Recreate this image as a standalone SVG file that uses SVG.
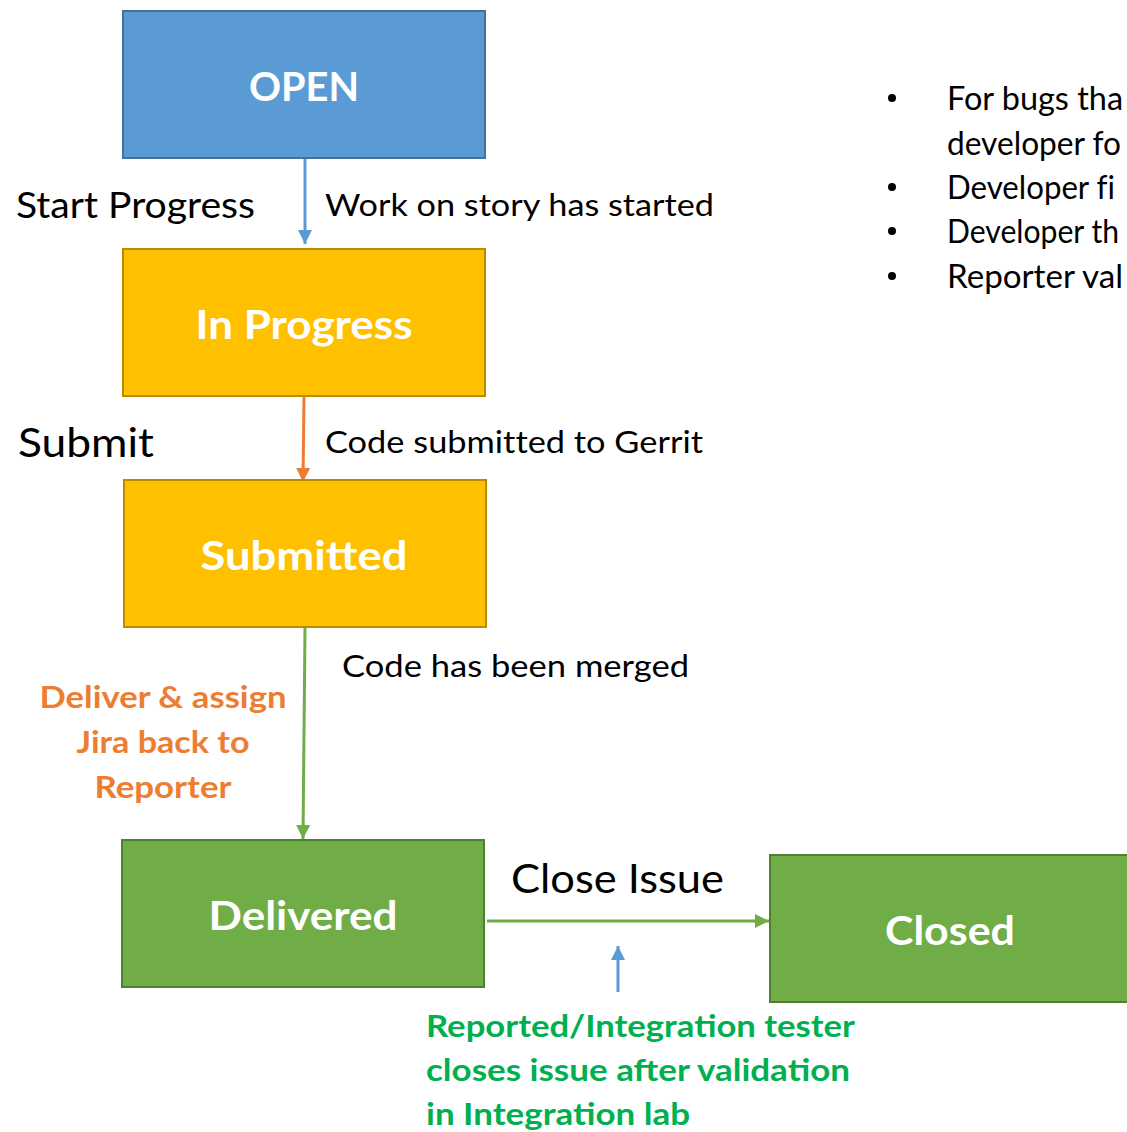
<svg xmlns="http://www.w3.org/2000/svg" width="1127" height="1132" viewBox="0 0 1127 1132">
<style>
.box{stroke-width:2}
.blue{fill:#5B9BD5;stroke:#41719C}
.gold{fill:#FFC000;stroke:#BC8C00}
.green{fill:#70AD47;stroke:#507E32}
.title{font-family:Lato,"Liberation Sans",sans-serif;font-weight:bold;fill:#FFFFFF;text-anchor:middle}
.lbl{font-family:Lato,"Liberation Sans",sans-serif;fill:#000000;font-variant-ligatures:none}
.orange{font-family:Lato,"Liberation Sans",sans-serif;font-weight:bold;fill:#ED7D31;text-anchor:middle}
.gtxt{font-family:Lato,"Liberation Sans",sans-serif;font-weight:bold;fill:#00B050}
.conn{fill:none;stroke-width:3}
</style>
<defs>
<marker id="ahBlue" markerUnits="userSpaceOnUse" markerWidth="16" markerHeight="16" refX="14" refY="8" orient="auto"><path d="M0,1 L14,8 L0,15 Z" fill="#5B9BD5"/></marker>
<marker id="ahOrange" markerUnits="userSpaceOnUse" markerWidth="16" markerHeight="16" refX="14" refY="8" orient="auto"><path d="M0,1 L14,8 L0,15 Z" fill="#ED7D31"/></marker>
<marker id="ahGreen" markerUnits="userSpaceOnUse" markerWidth="16" markerHeight="16" refX="14" refY="8" orient="auto"><path d="M0,1 L14,8 L0,15 Z" fill="#70AD47"/></marker>
</defs>
<rect width="1127" height="1132" fill="#FFFFFF"/>

<g id="connectors">
<line class="conn" x1="305" y1="159" x2="305" y2="244" stroke="#5B9BD5" marker-end="url(#ahBlue)"/>
<line class="conn" x1="304" y1="397" x2="303" y2="482" stroke="#ED7D31" marker-end="url(#ahOrange)"/>
<line class="conn" x1="305" y1="628" x2="303" y2="839" stroke="#70AD47" marker-end="url(#ahGreen)"/>
<line class="conn" x1="487" y1="921" x2="769" y2="921" stroke="#70AD47" marker-end="url(#ahGreen)"/>
<line class="conn" x1="618" y1="992" x2="618" y2="946" stroke="#5B9BD5" marker-end="url(#ahBlue)"/>
</g>

<g id="node-open">
<rect class="box blue" x="123" y="11" width="362" height="147"/>
<text class="title" x="304" y="101" font-size="41" textLength="110" lengthAdjust="spacingAndGlyphs">OPEN</text>
</g>
<g id="node-inprogress">
<rect class="box gold" x="123" y="249" width="362" height="147"/>
<text class="title" x="304" y="339" font-size="41" textLength="217" lengthAdjust="spacingAndGlyphs">In Progress</text>
</g>
<g id="node-submitted">
<rect class="box gold" x="124" y="480" width="362" height="147"/>
<text class="title" x="304" y="570" font-size="41" textLength="207" lengthAdjust="spacingAndGlyphs">Submitted</text>
</g>
<g id="node-delivered">
<rect class="box green" x="122" y="840" width="362" height="147"/>
<text class="title" x="303" y="930" font-size="41" textLength="189" lengthAdjust="spacingAndGlyphs">Delivered</text>
</g>
<g id="node-closed">
<rect class="box green" x="770" y="855" width="370" height="147"/>
<text class="title" x="950" y="945" font-size="41" textLength="130" lengthAdjust="spacingAndGlyphs">Closed</text>
</g>

<g id="labels">
<text class="lbl" x="16" y="218" font-size="36" textLength="239" lengthAdjust="spacingAndGlyphs">Start Progress</text>
<text class="lbl" x="325" y="216" font-size="31" textLength="389" lengthAdjust="spacingAndGlyphs">Work on story has started</text>
<text class="lbl" x="18" y="457" font-size="40" textLength="136" lengthAdjust="spacingAndGlyphs">Submit</text>
<text class="lbl" x="325" y="453" font-size="31" textLength="378" lengthAdjust="spacingAndGlyphs">Code submitted to Gerrit</text>
<text class="lbl" x="342" y="677" font-size="31" textLength="347" lengthAdjust="spacingAndGlyphs">Code has been merged</text>
<text class="orange" x="163" y="708" font-size="31" textLength="247" lengthAdjust="spacingAndGlyphs">Deliver &amp; assign</text>
<text class="orange" x="163" y="753" font-size="31" textLength="173" lengthAdjust="spacingAndGlyphs">Jira back to</text>
<text class="orange" x="163" y="798" font-size="31" textLength="137" lengthAdjust="spacingAndGlyphs">Reporter</text>
<text class="lbl" x="511" y="893" font-size="41" textLength="213" lengthAdjust="spacingAndGlyphs">Close Issue</text>
<text class="gtxt" x="426" y="1037" font-size="31" textLength="429" lengthAdjust="spacingAndGlyphs">Reported/Integration tester</text>
<text class="gtxt" x="426" y="1081" font-size="31" textLength="424" lengthAdjust="spacingAndGlyphs">closes issue after validation</text>
<text class="gtxt" x="426" y="1125" font-size="31" textLength="264" lengthAdjust="spacingAndGlyphs">in Integration lab</text>
</g>

<g id="notes" class="lbl" font-size="32">
<circle cx="892" cy="98" r="4" fill="#000"/>
<circle cx="892" cy="187" r="4" fill="#000"/>
<circle cx="892" cy="231" r="4" fill="#000"/>
<circle cx="892" cy="276" r="4" fill="#000"/>
<text x="947" y="110" textLength="176" lengthAdjust="spacingAndGlyphs">For bugs tha</text>
<text x="947" y="155" textLength="174" lengthAdjust="spacingAndGlyphs">developer fo</text>
<text x="947" y="199" textLength="168" lengthAdjust="spacingAndGlyphs">Developer fi</text>
<text x="947" y="243" textLength="172" lengthAdjust="spacingAndGlyphs">Developer th</text>
<text x="947" y="288" textLength="176" lengthAdjust="spacingAndGlyphs">Reporter val</text>
</g>
</svg>
